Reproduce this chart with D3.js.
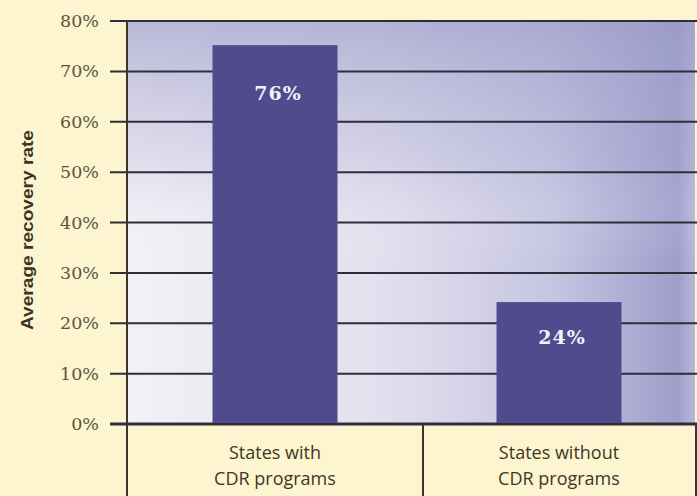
<!DOCTYPE html>
<html>
<head>
<meta charset="utf-8">
<script src="https://cdn.jsdelivr.net/npm/d3@7"></script>
<style>
html,body{margin:0;padding:0;background:#fdf5cf;}
svg{display:block;}
</style>
</head>
<body>
<svg id="chart" width="697" height="496"></svg>
<script>
const categories = [["States with", "CDR programs"], ["States without", "CDR programs"]];
const values = [75.2, 24.2];
const valueLabels = ["76%", "24%"];
const yTicks = [0, 10, 20, 30, 40, 50, 60, 70, 80];
const yTitle = "Average recovery rate";

(function() {
const W = 697, H = 496;
const mLeft = 127, mRight = 695, mTop = 21, zeroY = 424;
const svg = d3.select("#chart");

svg.append("rect").attr("width", W).attr("height", H).attr("fill", "#fdf5cf");

const defs = svg.append("defs");
const gh = defs.append("linearGradient").attr("id", "gh").attr("x1", 0).attr("y1", 0).attr("x2", 1).attr("y2", 0);
[[0, "#f3f1f6"], [0.45, "#e2e0ee"], [0.75, "#c6c5e2"], [0.97, "#9e9ecb"], [1, "#b8b8da"]]
  .forEach(([o, c]) => gh.append("stop").attr("offset", o).attr("stop-color", c));
const gv = defs.append("linearGradient").attr("id", "gv").attr("x1", 0).attr("y1", 0).attr("x2", 0).attr("y2", 1);
[[0, "#9a9ac8", 0.65], [0.35, "#a8a8d2", 0.25], [0.6, "#ffffff", 0]]
  .forEach(([o, c, a]) => gv.append("stop").attr("offset", o).attr("stop-color", c).attr("stop-opacity", a));

const y = d3.scaleLinear().domain([0, 80]).range([zeroY, mTop]);
// bar / label positions
const x = d3.scaleBand().domain(d3.range(categories.length)).range([mLeft + 6, mRight + 6]);
// category boxes below the axis
const xBox = d3.scaleBand().domain(d3.range(categories.length)).range([mLeft, mLeft + 2 * 296]);

// plot background
svg.append("rect").attr("x", mLeft).attr("y", mTop).attr("width", mRight - mLeft).attr("height", zeroY - mTop).attr("fill", "url(#gh)");
svg.append("rect").attr("x", mLeft).attr("y", mTop).attr("width", mRight - mLeft).attr("height", zeroY - mTop).attr("fill", "url(#gv)");

// gridlines & ticks
svg.append("g").selectAll("line").data(yTicks).join("line")
  .attr("x1", 110).attr("x2", W)
  .attr("y1", d => y(d)).attr("y2", d => y(d))
  .attr("stroke", "#2f2d3a")
  .attr("stroke-width", d => d === 0 ? 3 : 2);

// bars
const barW = 125;
svg.append("g").selectAll("rect").data(values).join("rect")
  .attr("x", (d, i) => x(i) + x.bandwidth() / 2 - barW / 2)
  .attr("y", d => y(d))
  .attr("width", barW)
  .attr("height", d => zeroY - 1 - y(d))
  .attr("fill", "#4f4b8d");

const labelDy = [55, 42];
svg.append("g").selectAll("text").data(values).join("text")
  .attr("x", (d, i) => x(i) + x.bandwidth() / 2 + 3)
  .attr("y", (d, i) => y(d) + labelDy[i])
  .attr("text-anchor", "middle")
  .attr("fill", "#f4f2fa")
  .attr("font-family", "'DejaVu Serif', serif")
  .attr("font-weight", "bold")
  .attr("font-size", 19)
  .attr("letter-spacing", 1)
  .text((d, i) => valueLabels[i]);

// y axis line
svg.append("line").attr("x1", mLeft).attr("x2", mLeft).attr("y1", mTop).attr("y2", H)
  .attr("stroke", "#3a3528").attr("stroke-width", 2);
// category divider lines
svg.append("line").attr("x1", xBox(1)).attr("x2", xBox(1)).attr("y1", zeroY).attr("y2", H)
  .attr("stroke", "#3a3528").attr("stroke-width", 2);
svg.append("line").attr("x1", 696).attr("x2", 696).attr("y1", zeroY).attr("y2", H)
  .attr("stroke", "#3a3528").attr("stroke-width", 2);

// tick labels
svg.append("g").selectAll("text").data(yTicks).join("text")
  .attr("x", 99).attr("y", d => y(d) + 6)
  .attr("text-anchor", "end")
  .attr("fill", "#5a543f")
  .attr("font-family", "'DejaVu Serif', serif")
  .attr("font-size", 17.5)
  .text(d => d + "%");

// category labels
const cat = svg.append("g").selectAll("text").data(categories).join("text")
  .attr("text-anchor", "middle")
  .attr("fill", "#3d3826")
  .attr("font-family", "'Open Sans', sans-serif")
  .attr("font-size", 18);
cat.each(function(d, i) {
  const t = d3.select(this);
  d.forEach((line, k) => {
    t.append("tspan").attr("x", x(i) + x.bandwidth() / 2).attr("y", 459 + k * 26).text(line);
  });
});

// y title
svg.append("text")
  .attr("transform", "translate(33,230) rotate(-90)")
  .attr("text-anchor", "middle")
  .attr("fill", "#3a3520")
  .attr("font-family", "'Liberation Sans', sans-serif")
  .attr("font-weight", "bold")
  .attr("font-size", 17)
  .attr("textLength", 200)
  .attr("lengthAdjust", "spacingAndGlyphs")
  .text(yTitle);
})();
</script>
</body>
</html>
